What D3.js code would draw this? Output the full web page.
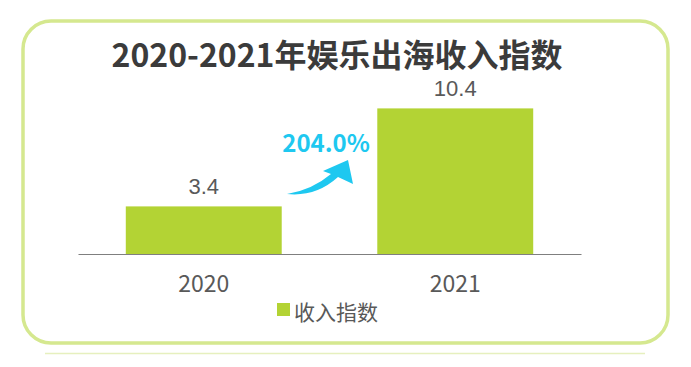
<!DOCTYPE html>
<html>
<head>
<meta charset="utf-8">
<script src="https://cdn.jsdelivr.net/npm/d3@7"></script>
<style>
  body { margin: 0; background: #fff; }
  text { font-family: "Noto Sans CJK SC", "Noto Sans", sans-serif; }
</style>
</head>
<body>
<script>
// data
var years = ["2020", "2021"];
var values = [3.4, 10.4];
var growthLabel = "204.0%";
var seriesName = "收入指数";
var title = "2020-2021年娱乐出海收入指数";

var width = 691, height = 367;

var svg = d3.select("body").append("svg")
    .attr("width", width)
    .attr("height", height);

// frame
svg.append("rect")
    .attr("x", 23).attr("y", 21)
    .attr("width", 645).attr("height", 322)
    .attr("rx", 28).attr("ry", 28)
    .attr("fill", "none")
    .attr("stroke", "#d5e88f")
    .attr("stroke-width", 3.5);

svg.append("line")
    .attr("x1", 45).attr("x2", 645)
    .attr("y1", 353.5).attr("y2", 353.5)
    .attr("stroke", "#e6f0be")
    .attr("stroke-width", 1.5);

svg.append("text")
    .attr("x", 337).attr("y", 67)
    .attr("text-anchor", "middle")
    .attr("font-size", 32)
    .attr("font-weight", "bold")
    .attr("fill", "#3b3b3b")
    .text(title);

var x = d3.scaleBand()
    .domain(years)
    .range([78, 581])
    .paddingInner(0.38)
    .paddingOuter(0.19);

var y = d3.scaleLinear()
    .domain([0, 12])
    .range([254, 86]);

svg.selectAll(".bar")
    .data(values)
    .enter().append("rect")
    .attr("class", "bar")
    .attr("x", function(d, i) { return x(years[i]); })
    .attr("y", function(d) { return y(d); })
    .attr("width", x.bandwidth())
    .attr("height", function(d) { return y(0) - y(d); })
    .attr("fill", "#b3d334");

// value labels (latin font keeps them clear of the title box)
svg.selectAll(".val")
    .data(values)
    .enter().append("text")
    .attr("class", "val")
    .attr("x", function(d, i) { return x(years[i]) + x.bandwidth() / 2; })
    .attr("y", function(d) { return y(d) - 12; })
    .attr("text-anchor", "middle")
    .attr("font-size", 22)
    .attr("fill", "#595959")
    .style("font-family", "'Liberation Sans', sans-serif")
    .text(function(d) { return d; });

// x axis
var xAxis = svg.append("g")
    .attr("transform", "translate(0," + y(0) + ")")
    .call(d3.axisBottom(x).tickSize(0).tickPadding(22));
xAxis.select(".domain").attr("stroke", "#7f7f7f").attr("stroke-width", 1.2);
xAxis.selectAll("text")
    .attr("font-size", 23)
    .attr("fill", "#595959")
    .style("font-family", "'Noto Sans CJK SC', sans-serif");

// legend
svg.append("rect")
    .attr("x", 277).attr("y", 303)
    .attr("width", 13).attr("height", 13)
    .attr("fill", "#b3d334");
svg.append("text")
    .attr("x", 294).attr("y", 320)
    .attr("font-size", 21)
    .attr("fill", "#595959")
    .text(seriesName);

// growth arrow
svg.append("path")
    .attr("d", "M287,194 Q316,197 338,177 L353,184 L348,160 L323,171 L331,174 Q312,190 287,194 Z")
    .attr("fill", "#1ec8f0");

svg.append("text")
    .attr("x", 326).attr("y", 152)
    .attr("text-anchor", "middle")
    .attr("font-size", 24)
    .attr("font-weight", "bold")
    .attr("fill", "#1ec8f0")
    .text(growthLabel);
</script>
</body>
</html>
